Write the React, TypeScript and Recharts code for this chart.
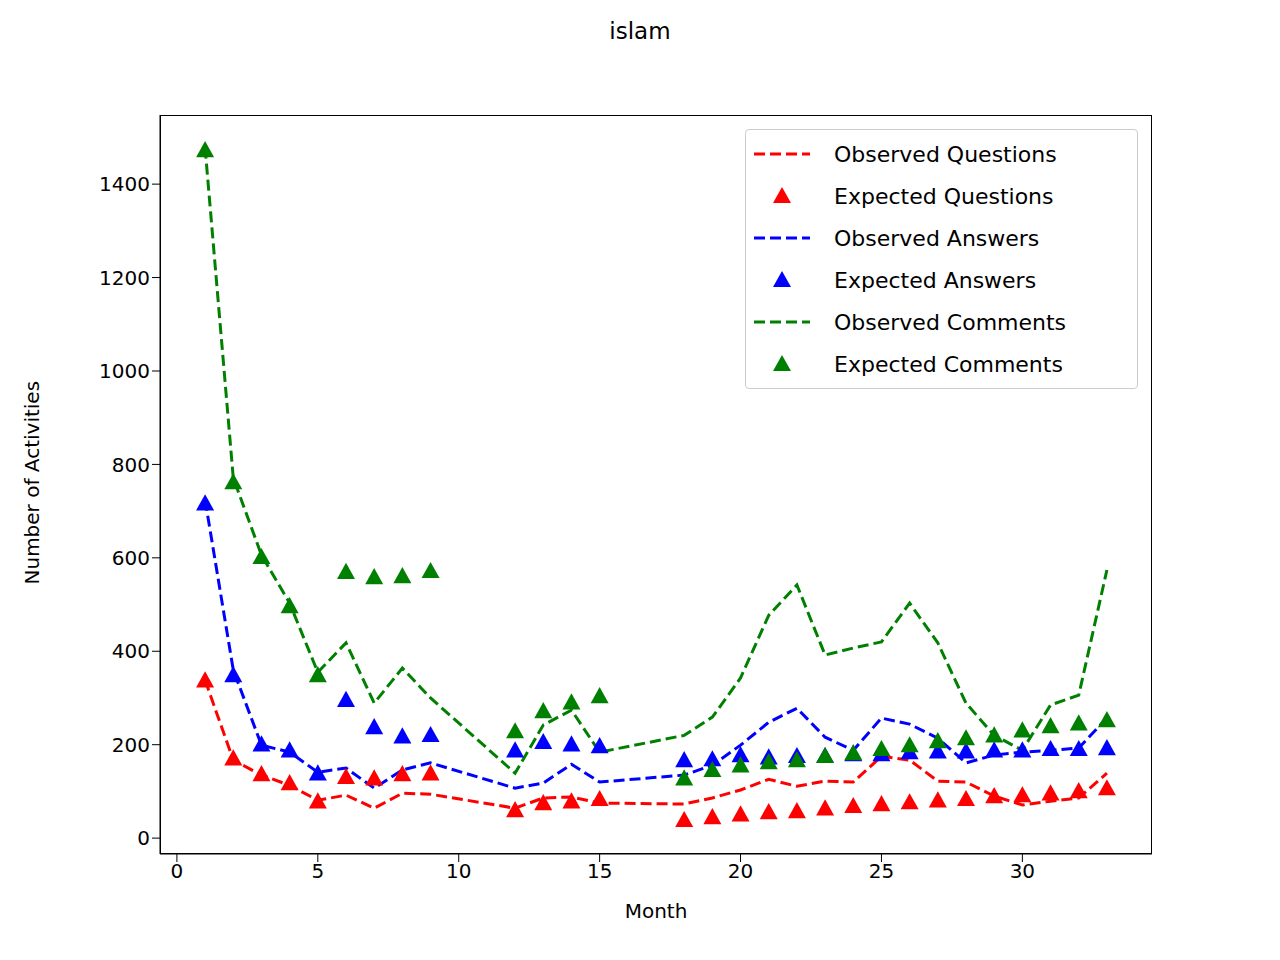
import { ComposedChart, Line, Scatter, XAxis, YAxis } from "recharts";

const months = [1, 2, 3, 4, 5, 6, 7, 8, 9, 12, 13, 14, 15, 18, 19, 20, 21, 22, 23, 24, 25, 26, 27, 28, 29, 30, 31, 32, 33];

const obsQuestions = [338, 167, 135, 113, 81, 92, 64, 96, 94, 64, 86, 88, 75, 73, 86, 103, 126, 111, 122, 120, 175, 167, 122, 120, 90, 71, 79, 86, 139];
const expQuestions = [338, 171, 137, 118, 79, 131, 128, 137, 139, 60, 75, 79, 84, 39, 45, 51, 56, 58, 64, 69, 73, 77, 81, 84, 90, 92, 96, 101, 107];
const obsAnswers = [724, 360, 199, 184, 141, 150, 107, 146, 161, 107, 118, 158, 120, 135, 156, 199, 248, 278, 216, 188, 257, 244, 214, 161, 178, 184, 188, 193, 257];
const expAnswers = [717, 349, 201, 188, 139, 296, 238, 218, 221, 188, 206, 201, 197, 167, 169, 178, 173, 176, 176, 180, 180, 184, 186, 186, 188, 188, 191, 191, 193];
const obsComments = [1478, 771, 606, 503, 355, 418, 289, 364, 300, 139, 242, 274, 184, 220, 259, 343, 477, 542, 392, 407, 420, 503, 418, 289, 220, 188, 285, 306, 574];
const expComments = [1473, 762, 602, 497, 349, 570, 559, 561, 572, 229, 272, 291, 304, 128, 146, 156, 163, 167, 176, 182, 191, 199, 208, 214, 220, 231, 240, 246, 253];

const xTicks = [0, 5, 10, 15, 20, 25, 30];
const yTicks = [0, 200, 400, 600, 800, 1000, 1200, 1400];

const toRows = (vals: number[]) => months.map((m, i) => ({ m, v: vals[i] }));

const triangle = (color: string) => (props: any) => {
  const { cx, cy } = props;
  const r = 9;
  return <polygon points={`${cx},${cy - r} ${cx - r},${cy + r * 0.8} ${cx + r},${cy + r * 0.8}`} fill={color} />;
};

const legendItems = [
  { label: "Observed Questions", color: "red", dashed: true },
  { label: "Expected Questions", color: "red", dashed: false },
  { label: "Observed Answers", color: "blue", dashed: true },
  { label: "Expected Answers", color: "blue", dashed: false },
  { label: "Observed Comments", color: "green", dashed: true },
  { label: "Expected Comments", color: "green", dashed: false },
];

const font = "'DejaVu Sans', sans-serif";
const tickStyle = { fontSize: 20, fill: "#000", fontFamily: font };

export default function App() {
  return (
    <div style={{ position: "absolute", left: 0, top: 0, width: 1280, height: 960, background: "#fff", fontFamily: font }}>
      <div style={{ position: "absolute", top: 18, width: 1280, textAlign: "center", fontSize: 23 }}>islam</div>
      <ComposedChart width={1280} height={960} margin={{ top: 115, right: 128, bottom: 0, left: 0 }}>
        <XAxis
          dataKey="m"
          type="number"
          domain={[-0.6, 34.6]}
          ticks={xTicks}
          tick={tickStyle}
          tickSize={8}
          stroke="#000"
          height={106}
          allowDuplicatedCategory={false}
          label={{ value: "Month", position: "insideTop", offset: 50, fontSize: 20, fill: "#000", fontFamily: font }}
        />
        <YAxis
          type="number"
          domain={[-34, 1548]}
          ticks={yTicks}
          tick={tickStyle}
          tickSize={8}
          stroke="#000"
          width={160}
          label={{ value: "Number of Activities", angle: -90, position: "insideLeft", offset: 32, fontSize: 20, fill: "#000", fontFamily: font, dy: 100 }}
        />
        <Line data={toRows(obsQuestions)} dataKey="v" stroke="red" strokeWidth={3} strokeDasharray="11 5" dot={false} isAnimationActive={false} />
        <Line data={toRows(obsAnswers)} dataKey="v" stroke="blue" strokeWidth={3} strokeDasharray="11 5" dot={false} isAnimationActive={false} />
        <Line data={toRows(obsComments)} dataKey="v" stroke="green" strokeWidth={3} strokeDasharray="11 5" dot={false} isAnimationActive={false} />
        <Scatter data={toRows(expQuestions)} dataKey="v" shape={triangle("red")} isAnimationActive={false} />
        <Scatter data={toRows(expAnswers)} dataKey="v" shape={triangle("blue")} isAnimationActive={false} />
        <Scatter data={toRows(expComments)} dataKey="v" shape={triangle("green")} isAnimationActive={false} />
      </ComposedChart>
      <div style={{ position: "absolute", left: 160, top: 115, width: 990, height: 737, border: "1.5px solid #000", pointerEvents: "none" }} />
      <div style={{ position: "absolute", left: 745, top: 129, width: 393, height: 260, border: "1.5px solid #ccc", borderRadius: 4, background: "rgba(255,255,255,0.8)", boxSizing: "border-box", padding: "3px 0 0 6px" }}>
        {legendItems.map((it) => (
          <div key={it.label} style={{ display: "flex", alignItems: "center", height: 42, fontSize: 22 }}>
            <svg width={70} height={20}>
              {it.dashed ? (
                <line x1={2} y1={10} x2={58} y2={10} stroke={it.color} strokeWidth={3} strokeDasharray="11 5" />
              ) : (
                <polygon points="30,1 21,17 39,17" fill={it.color} />
              )}
            </svg>
            <span style={{ marginLeft: 12 }}>{it.label}</span>
          </div>
        ))}
      </div>
    </div>
  );
}
